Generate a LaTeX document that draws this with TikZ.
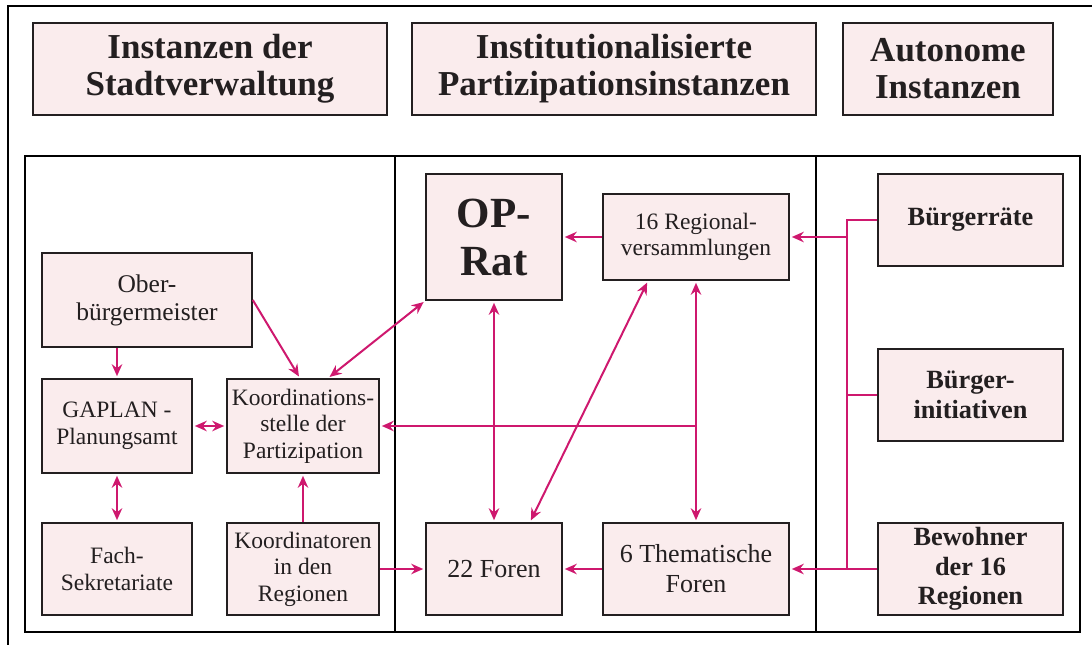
\documentclass[tikz,border=0pt]{standalone}
\usepackage{fontspec}
\setmainfont{Liberation Serif}
\usetikzlibrary{arrows.meta}
\definecolor{mag}{RGB}{206,24,110}
\definecolor{boxfill}{RGB}{250,236,237}
\definecolor{ink}{RGB}{35,31,32}
\tikzset{
  box/.style={draw=ink, line width=1.6pt, fill=boxfill, text=ink, align=center, inner sep=0pt},
  body/.style={font={\fontsize{23.5}{26.5}\selectfont}},
  bodyl/.style={font={\fontsize{26}{30}\selectfont}},
  head/.style={font={\fontsize{35}{37}\selectfont\bfseries}},
  bold/.style={font={\fontsize{26.3}{29.5}\selectfont\bfseries}},
  big/.style={font={\fontsize{43}{48}\selectfont\bfseries}},
  conn/.style={draw=mag, line width=2pt},
  arr/.style={conn, -{Stealth[length=12pt,width=10.5pt,inset=4pt]}, shorten >=2pt},
  darr/.style={conn, {Stealth[length=12pt,width=10.5pt,inset=4pt]}-{Stealth[length=12pt,width=10.5pt,inset=4pt]}, shorten >=2pt, shorten <=2pt},
  frame/.style={draw=black, line width=2pt}
}
\begin{document}
\begin{tikzpicture}[x=1pt,y=-1pt]
\useasboundingbox (0,0) rectangle (1092,645);
% outer frame (extends past the page edges)
\draw[frame, line width=1.6pt] (8,6) rectangle (1110,660);
% main panel
\draw[frame] (25,156) rectangle (1080,632);
\draw[frame] (395,156) -- (395,632);
\draw[frame] (816,156) -- (816,632);

% headers
\node[box, head, minimum width=354, minimum height=92] (h1) at (210,69) {Instanzen der\\Stadtverwaltung};
\node[box, head, minimum width=404, minimum height=92] (h2) at (614,69) {Institutionalisierte\\Partizipationsinstanzen};
\node[box, head, minimum width=210, minimum height=92] (h3) at (948,69) {Autonome\\Instanzen};

% left column
\node[box, font={\fontsize{25.5}{28}\selectfont}, minimum width=210, minimum height=94] (ober) at (147,300) {Ober-\\bürgermeister};
\node[box, body, minimum width=150, minimum height=94] (gaplan) at (117,426) {GAPLAN -\\Planungsamt};
\node[box, body, minimum width=152, minimum height=94] (kst) at (303,426) {Koordinations-\\stelle der\\Partizipation};
\node[box, body, minimum width=150, minimum height=92] (fach) at (117,569) {Fach-\\Sekretariate};
\node[box, body, minimum width=152, minimum height=92] (kreg) at (303,569) {Koordinatoren\\in den\\Regionen};

% middle column
\node[box, big, minimum width=136, minimum height=126] (oprat) at (494,237) {OP-\\Rat};
\node[box, body, minimum width=186, minimum height=86] (regv) at (696,237) {16 Regional-\\versammlungen};
\node[box, bodyl, minimum width=136, minimum height=92] (foren) at (494,569) {22 Foren};
\node[box, bodyl, minimum width=186, minimum height=92] (them) at (696,569) {6 Thematische\\Foren};

% right column
\node[box, bold, minimum width=185, minimum height=92] (braete) at (970.5,220) {Bürgerräte};
\node[box, bold, minimum width=185, minimum height=92] (binit) at (970.5,395) {Bürger-\\initiativen};
\node[box, bold, minimum width=185, minimum height=92] (bewo) at (970.5,569) {Bewohner\\der 16\\Regionen};

% connectors: left column
\draw[arr] (gaplan.north |- ober.south) -- (gaplan.north);
\draw[arr] (ober.east) -- ([xshift=-3pt]kst.north);
\draw[darr] ([xshift=25pt]kst.north) -- (oprat.south west);
\draw[darr] (gaplan.east) -- (kst.west);
\draw[darr] (gaplan.south) -- (fach.north);
\draw[arr] (kreg.north) -- (kst.south);
\draw[arr] (kreg.east) -- (foren.west);

% connectors: middle column
\draw[arr] (regv.west) -- (oprat.east);
\draw[arr] (them.west) -- (foren.east);
\draw[darr] (oprat.south) -- (foren.north);
\draw[darr] ([xshift=-48pt]regv.south) -- ([xshift=36pt]foren.north);
\draw[darr] (regv.south) -- (them.north);
\coordinate (br) at (regv.south |- kst.east);
\draw[arr] (br) -- (kst.east);

% connectors: right column bus
\coordinate (bx) at (847,0);
\draw[conn] (braete.west) -- (bx |- braete.west) -- (bx |- bewo.west) -- (bewo.west);
\draw[conn] (binit.west) -- (bx |- binit.west);
\draw[arr] (bx |- regv.east) -- (regv.east);
\draw[arr] (bx |- them.east) -- (them.east);
\end{tikzpicture}
\end{document}
